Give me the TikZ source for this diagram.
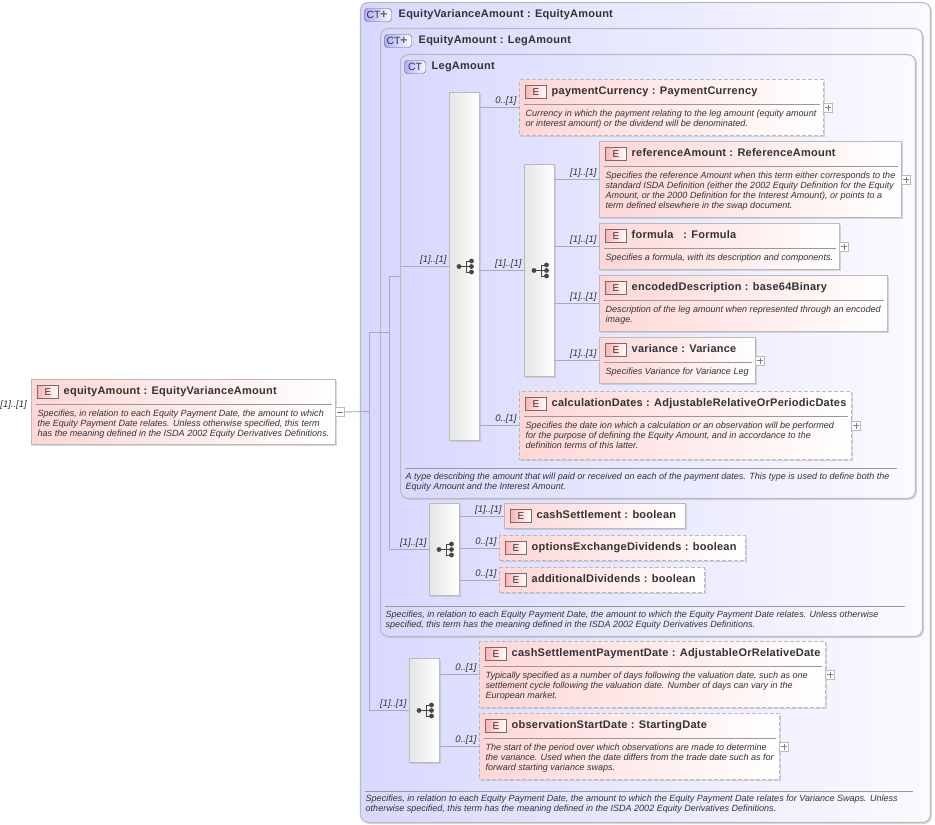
\documentclass[tikz,border=0pt]{standalone}
\usepackage{fontspec}
\setmainfont{Liberation Sans}
\newfontfamily\titlefont[LetterSpace=2.2]{Liberation Sans}
\usetikzlibrary{positioning,shadows}
\definecolor{edge}{HTML}{BBBBBB}
\definecolor{ink}{HTML}{333333}
\definecolor{wire}{HTML}{A9A9B8}
\definecolor{ctfill}{HTML}{D8D8FF}
\definecolor{ctend}{HTML}{FAFAFF}
\definecolor{elfill}{HTML}{FFD6D6}
\tikzset{
	ctbox/.style={
		draw=edge,
		line width=1.1pt,
		rounded corners=8pt,
		anchor=north west,
		inner sep=0pt,
		outer sep=0pt,
		left color=ctfill,
		right color=ctend,
		drop shadow={shadow xshift=1.5pt,shadow yshift=-1.5pt,fill=gray!60,opacity=.5},
	},
	ctbadge/.style={
		draw=ink!80,
		rounded corners=3pt,
		anchor=north west,
		inner sep=0pt,
		outer sep=0pt,
		minimum height=13pt,
		left color=ctfill!80!blue,
		right color=ctend,
		text=ink,
		font=\fontsize{10.5}{10}\selectfont,
	},
	cttitle/.style={
		anchor=base west,
		inner sep=0pt,
		text=ink,
		font=\fontsize{11}{12}\titlefont\bfseries\selectfont,
	},
	elembox/.style={
		draw=edge,
		line width=1.1pt,
		anchor=north west,
		inner sep=0pt,
		outer sep=0pt,
		left color=elfill,
		right color=white,
		drop shadow={shadow xshift=1.5pt,shadow yshift=-1.5pt,fill=gray!60,opacity=.5},
	},
	optional/.style={dash pattern=on 4pt off 2pt},
	ebadge/.style={
		draw=ink!70,
		anchor=north west,
		inner sep=0pt,
		outer sep=0pt,
		minimum width=21pt,
		minimum height=13pt,
		left color=red!30!white,
		right color=white,
		text=ink,
		font=\fontsize{10}{10}\selectfont,
	},
	doctext/.style={
		anchor=north west,
		inner sep=0pt,
		align=left,
		text=ink,
		font=\fontsize{9.03}{10}\itshape\selectfont,
	},
	docrule/.style={draw=gray!80,line width=.8pt},
	conn/.style={draw=wire,line width=.9pt},
	occurs/.style={
		anchor=south east,
		inner sep=0pt,
		xshift=-2.5pt,
		yshift=1.5pt,
		text=ink,
		font=\fontsize{9.5}{10}\itshape\selectfont,
	},
	seqbox/.style={
		draw=edge,
		line width=1.1pt,
		anchor=north west,
		inner sep=0pt,
		outer sep=0pt,
		left color=gray!20,
		right color=white,
		drop shadow={shadow xshift=1.5pt,shadow yshift=-1.5pt,fill=gray!60,opacity=.5},
	},
	btn/.style={
		draw=edge,
		fill=white,
		inner sep=0pt,
		outer sep=0pt,
		minimum size=9pt,
		right=0pt of #1,
	},
	plusbtn/.style={
		btn=#1,
		path picture={
			\draw[gray] (path picture bounding box.center) ++(-3pt,0) -- ++(6pt,0);
			\draw[gray] (path picture bounding box.center) ++(0,-3pt) -- ++(0,6pt);
		},
	},
	minusbtn/.style={
		btn=#1,
		path picture={
			\draw[gray] (path picture bounding box.center) ++(-3pt,0) -- ++(6pt,0);
		},
	},
}
\def\ctplus{\hspace{1pt}CT\hspace{-.5pt}\textcolor{ink!75}{\fontsize{12.5}{10}\bfseries\selectfont\raisebox{-.3pt}{+}}}
% optional style, name, x, y, width, height, title, doc
\newcommand{\elem}[8][]{
	\node[elembox,#1,minimum width=#5pt,minimum height=#6pt] (#2) at (#3,#4) {};
	\node[ebadge] (#2-e) at ([shift={(6,6)}]#2.north west) {E};
	\node[cttitle] (#2-t) at ([shift={(32,15.3)}]#2.north west) {#7};
	\if\relax\detokenize{#8}\relax\else
		\draw[docrule] ([shift={(4,25)}]#2.north west) -- ([shift={(-4,25)}]#2.north east);
		\node[doctext] (#2-d) at ([shift={(6,30)}]#2.north west) {#8};
	\fi
}
% name, x, y, width, height
\newcommand{\seq}[5]{
	\node[seqbox,minimum width=#4pt,minimum height=#5pt] (#1) at (#2,#3) {};
	\fill[ink!90] (#1.center) ++(-5.5,0) circle (2.4pt);
	\draw[ink!90,line width=.9pt] (#1.center) ++(-5.5,0) -- ++(7,0);
	\draw[ink!90,line width=.9pt] (#1.center) ++(1.5,-5.5) -- ++(0,11);
	\foreach \dy in {-5.5,0,5.5}{
		\draw[ink!90,line width=.9pt] (#1.center) ++(1.5,\dy) -- ++(5.5,0);
		\fill[ink!90] (#1.center) ++(7,\dy) circle (2.4pt);
	}
}
\newcommand{\occlink}[3]{
	\draw[conn] (#1.east |- #2.west) -- node[occurs,pos=1] {#3} (#2.west);
}
\begin{document}
\begin{tikzpicture}[x=1pt,y=-1pt]
\useasboundingbox (-.5,-.5) rectangle (934.5,824.5);

% complex types
\node[ctbox,minimum width=570pt,minimum height=820pt] (EquityVarianceAmount) at (360,2) {};
\node[ctbox,minimum width=542pt,minimum height=608pt] (EquityAmount) at (380,28) {};
\node[ctbox,minimum width=515pt,minimum height=444pt] (LegAmount) at (400,54) {};

\node[ctbadge,minimum width=27pt,text width=25pt] (EquityVarianceAmount-b) at (364,8) {\ctplus};
\node[cttitle] (EquityVarianceAmount-t) at (398,16.7) {EquityVarianceAmount : EquityAmount};
\node[ctbadge,minimum width=27pt,text width=25pt] (EquityAmount-b) at (384,34) {\ctplus};
\node[cttitle] (EquityAmount-t) at (418,42.7) {EquityAmount : LegAmount};
\node[ctbadge,minimum width=21pt,align=center] (LegAmount-b) at (404,60) {CT};
\node[cttitle] (LegAmount-t) at (431,68.7) {LegAmount};

\draw[docrule] (404,468) -- (896,468);
\node[doctext] (LegAmount-d) at (405,472) {A type describing the amount that will paid or received on each of the payment dates. This type is used to define both the\\Equity Amount and the Interest Amount.};
\draw[docrule] (384,606) -- (904,606);
\node[doctext] (EquityAmount-d) at (385,610) {Specifies, in relation to each Equity Payment Date, the amount to which the Equity Payment Date relates. Unless otherwise\\specified, this term has the meaning defined in the ISDA 2002 Equity Derivatives Definitions.};
\draw[docrule] (364,791) -- (912,791);
\node[doctext] (EquityVarianceAmount-d) at (365,794.5) {Specifies, in relation to each Equity Payment Date, the amount to which the Equity Payment Date relates for Variance Swaps. Unless\\otherwise specified, this term has the meaning defined in the ISDA 2002 Equity Derivatives Definitions.};

% elements
\elem{equityAmount}{31}{379}{304}{65}{equityAmount : EquityVarianceAmount}{Specifies, in relation to each Equity Payment Date, the amount to which\\the Equity Payment Date relates. Unless otherwise specified, this term\\has the meaning defined in the ISDA 2002 Equity Derivatives Definitions.}
\elem[optional]{paymentCurrency}{519}{79}{304}{56}{paymentCurrency : PaymentCurrency}{Currency in which the payment relating to the leg amount (equity amount\\or interest amount) or the dividend will be denominated.}
\elem{referenceAmount}{599}{141}{302}{76}{referenceAmount : ReferenceAmount}{Specifies the reference Amount when this term either corresponds to the\\standard ISDA Definition (either the 2002 Equity Definition for the Equity\\Amount, or the 2000 Definition for the Interest Amount), or points to a\\term defined elsewhere in the swap document.}
\elem{formula}{599}{223}{240}{46}{formula \ \ : Formula}{Specifies a formula, with its description and components.}
\elem{encodedDescription}{599}{275}{288}{56}{encodedDescription : base64Binary}{Description of the leg amount when represented through an encoded\\image.}
\elem{variance}{599}{337}{156}{46}{variance : Variance}{Specifies Variance for Variance Leg}
\elem[optional]{calculationDates}{519}{391}{332}{68}{calculationDates : AdjustableRelativeOrPeriodicDates}{Specifies the date ion which a calculation or an observation will be performed\\for the purpose of defining the Equity Amount, and in accordance to the\\definition terms of this latter.}
\elem{cashSettlement}{504}{503}{181}{25}{cashSettlement : boolean}{}
\elem[optional]{optionsExchangeDividends}{499}{535}{246}{25}{optionsExchangeDividends : boolean}{}
\elem[optional]{additionalDividends}{499}{567}{205}{25}{additionalDividends : boolean}{}
\elem[optional]{cashSettlementPaymentDate}{479}{641}{346}{66}{cashSettlementPaymentDate : AdjustableOrRelativeDate}{Typically specified as a number of days following the valuation date, such as one\\settlement cycle following the valuation date. Number of days can vary in the\\European market.}
\elem[optional]{observationStartDate}{479}{713}{300}{66}{observationStartDate : StartingDate}{The start of the period over which observations are made to determine\\the variance. Used when the date differs from the trade date such as for\\forward starting variance swaps.}

\node[minusbtn=equityAmount] (equityAmount-x) {};
\node[plusbtn=paymentCurrency] (paymentCurrency-x) {};
\node[plusbtn=referenceAmount] (referenceAmount-x) {};
\node[plusbtn=formula] (formula-x) {};
\node[plusbtn=variance] (variance-x) {};
\node[plusbtn=calculationDates] (calculationDates-x) {};
\node[plusbtn=cashSettlementPaymentDate] (cashSettlementPaymentDate-x) {};
\node[plusbtn=observationStartDate] (observationStartDate-x) {};

\node[occurs,anchor=east,xshift=0pt,yshift=5.5pt,left=2pt of equityAmount.west] (equityAmount-o) {[1]..[1]};

% sequences
\seq{seqLeg}{449}{92}{30}{348}
\seq{seqRef}{524}{164}{30}{212}
\seq{seqCash}{429}{503}{30}{92}
\seq{seqDates}{409}{658}{30}{104}

% connectors
\coordinate (jointA) at (369,332);
\coordinate (jointB) at (389,332);
\coordinate (jointC) at (389,276);
\coordinate (jointD) at (369,411);
\draw[conn] (equityAmount-x) -- (jointD);
\draw[conn] (jointD) -- (jointA) -- (jointB) -- (jointC) -- (LegAmount.west |- jointC);
\draw[conn] (jointA) |- node[occurs,pos=1] {[1]..[1]} (seqDates.west);
\draw[conn] (jointB) |- node[occurs,pos=1] {[1]..[1]} (seqCash.west);
\draw[conn] (LegAmount.west |- seqLeg.west) -- node[occurs,pos=1] {[1]..[1]} (seqLeg.west);

\occlink{seqLeg}{paymentCurrency}{0..[1]}
\draw[conn] (seqLeg.east |- seqRef.west) -- node[occurs,pos=1] {[1]..[1]} (seqRef.west);
\occlink{seqLeg}{calculationDates}{0..[1]}
\occlink{seqRef}{referenceAmount}{[1]..[1]}
\occlink{seqRef}{formula}{[1]..[1]}
\occlink{seqRef}{encodedDescription}{[1]..[1]}
\occlink{seqRef}{variance}{[1]..[1]}
\occlink{seqCash}{cashSettlement}{[1]..[1]}
\occlink{seqCash}{optionsExchangeDividends}{0..[1]}
\occlink{seqCash}{additionalDividends}{0..[1]}
\occlink{seqDates}{cashSettlementPaymentDate}{0..[1]}
\occlink{seqDates}{observationStartDate}{0..[1]}
\end{tikzpicture}
\end{document}
